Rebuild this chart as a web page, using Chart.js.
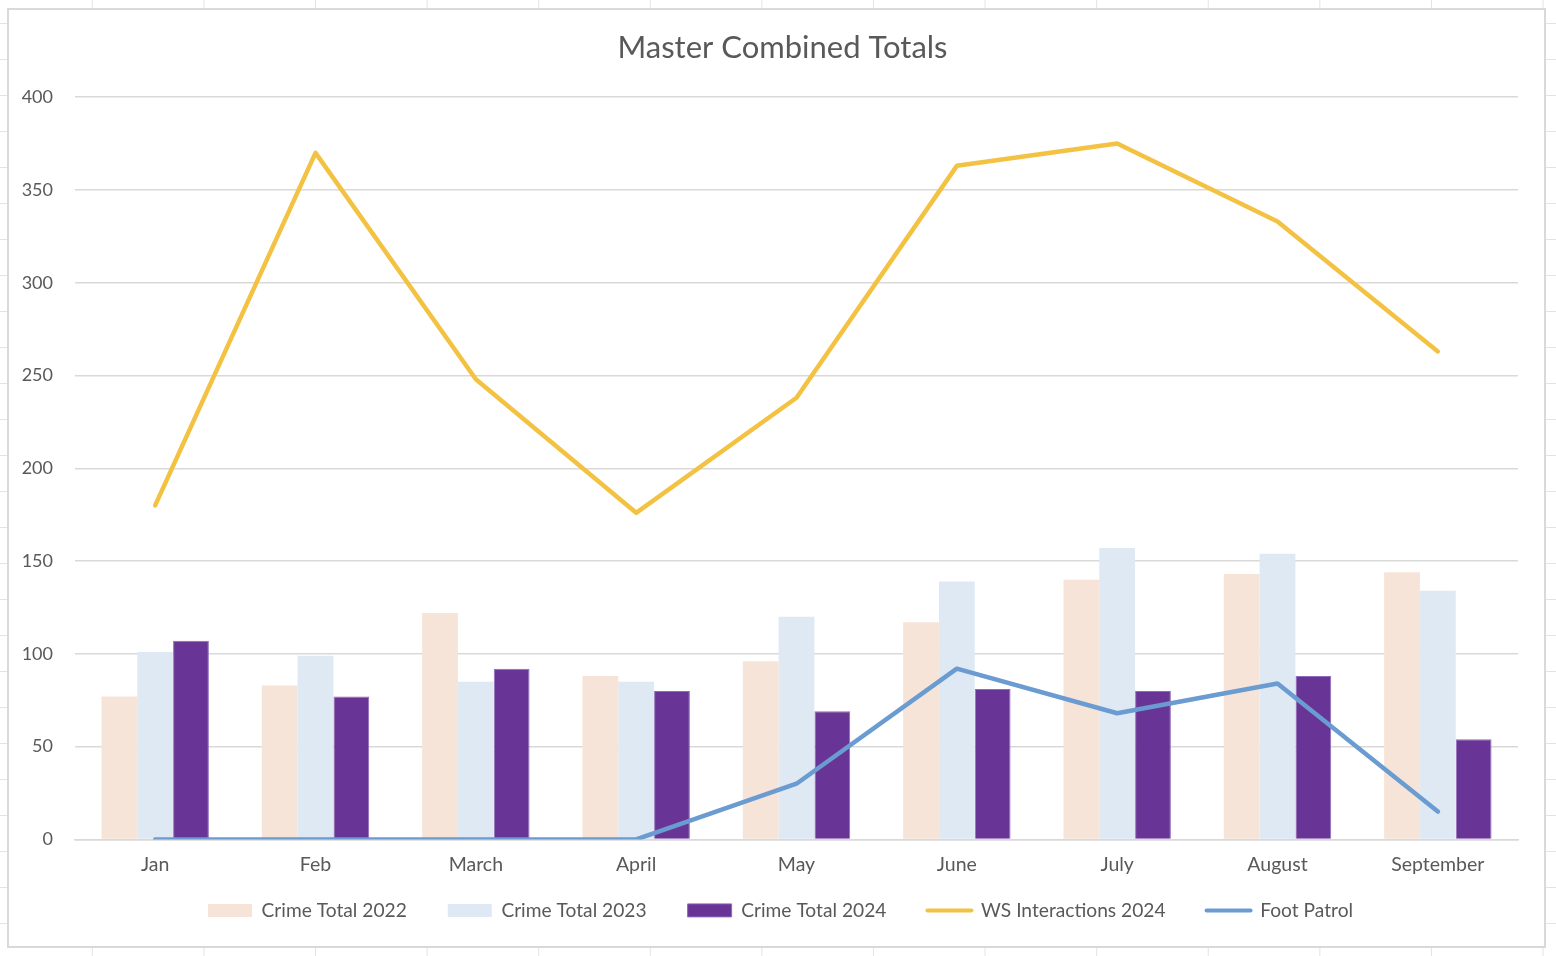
<!DOCTYPE html>
<html>
<head>
<meta charset="utf-8">
<script src="https://cdn.jsdelivr.net/npm/chart.js@4.4.1/dist/chart.umd.min.js"></script>
<style>
  html, body { margin: 0; padding: 0; }
  body {
    width: 1556px; height: 956px; position: relative; overflow: hidden;
    background-color: #fff;
    background-image:
      linear-gradient(to right, #e3e3e3 1px, transparent 1px),
      linear-gradient(to bottom, #e3e3e3 1px, transparent 1px);
    background-size: 111.6px 100%, 100% 36px;
    background-position: 315px 0, 0 23px;
  }
  #wrap {
    position: absolute; left: 7px; top: 8px; width: 1539px; height: 940px;
    box-sizing: border-box; border: 2px solid #d9d9d9; background: #fff;
  }
  #chart { display: block; }
</style>
</head>
<body>
<div id="wrap"><canvas id="chart" width="1535" height="936"></canvas></div>
<script>
// values
const months       = ['Jan', 'Feb', 'March', 'April', 'May', 'June', 'July', 'August', 'September'];
const crime2022    = [77, 83, 122, 88, 96, 117, 140, 143, 144];
const crime2023    = [101, 99, 85, 85, 120, 139, 157, 154, 134];
const crime2024    = [107, 77, 92, 80, 69, 81, 80, 88, 54];
const wsInteract   = [180, 370, 248, 176, 238, 363, 375, 333, 263];
const footPatrol   = [0, 0, 0, 0, 30, 92, 68, 84, 15];
const yTicks       = [0, 50, 100, 150, 200, 250, 300, 350, 400];

const FONT = "Lato, 'Open Sans', sans-serif";
const TEXT = '#595959';

const colors = {
  c22:  '#f7e4d8',
  c23:  '#dfe9f4',
  c24:  '#683496',
  c24b: '#8e6ab8',
  ws:   '#f4c243',
  foot: '#6a9bd1',
};

// Excel centres title/legend on the whole chart box, not the plot; nudge them to match
const boxNudge = {
  id: 'boxNudge',
  afterLayout(chart) {
    const t = chart.titleBlock, l = chart.legend;
    if (t) { t.left += 19; t.right += 19; }
    if (l) { l.left += 17; l.right += 17; l.top -= 31; l.bottom -= 31; }
  }
};

new Chart(document.getElementById('chart'), {
  data: {
    labels: months,
    datasets: [
      { type: 'bar', label: 'Crime Total 2022', data: crime2022, backgroundColor: colors.c22,
        borderWidth: 0, categoryPercentage: 0.67, barPercentage: 1, order: 2 },
      { type: 'bar', label: 'Crime Total 2023', data: crime2023, backgroundColor: colors.c23,
        borderWidth: 0, categoryPercentage: 0.67, barPercentage: 1, order: 2 },
      { type: 'bar', label: 'Crime Total 2024', data: crime2024, backgroundColor: colors.c24,
        borderColor: colors.c24b, borderWidth: 1, categoryPercentage: 0.67, barPercentage: 1, order: 2 },
      { type: 'line', label: 'WS Interactions 2024', data: wsInteract, borderColor: colors.ws,
        backgroundColor: colors.ws, borderWidth: 4.5, pointRadius: 0, tension: 0,
        borderCapStyle: 'round', borderJoinStyle: 'round', order: 1 },
      { type: 'line', label: 'Foot Patrol', data: footPatrol, borderColor: colors.foot,
        backgroundColor: colors.foot, borderWidth: 4.5, pointRadius: 0, tension: 0,
        borderCapStyle: 'round', borderJoinStyle: 'round', order: 0 },
    ]
  },
  options: {
    responsive: false,
    animation: false,
    layout: { padding: { left: 0, right: 26, top: 0, bottom: -15 } },
    plugins: {
      title: {
        display: true,
        text: 'Master Combined Totals',
        color: TEXT,
        font: { family: FONT, size: 31, weight: 'normal' },
        padding: { top: 19, bottom: 31 }
      },
      legend: {
        position: 'bottom',
        labels: {
          color: TEXT,
          font: { family: FONT, size: 19.2 },
          usePointStyle: true,
          pointStyleWidth: 44,
          boxHeight: 13,
          padding: 41,
          sort: (a, b) => a.datasetIndex - b.datasetIndex,
          generateLabels(chart) {
            const items = Chart.defaults.plugins.legend.labels.generateLabels(chart);
            items.forEach(it => {
              const ds = chart.data.datasets[it.datasetIndex];
              it.pointStyle = ds.type === 'line' ? 'line' : 'rect';
              if (ds.type === 'line') { it.lineWidth = 4; it.lineCap = 'round'; }
            });
            return items;
          }
        }
      },
      tooltip: { enabled: false }
    },
    scales: {
      x: {
        grid: { display: false, drawTicks: false },
        border: { color: '#d9d9d9', width: 1.5 },
        ticks: { color: TEXT, font: { family: FONT, size: 19.5 }, padding: 14, maxRotation: 0 }
      },
      y: {
        min: 0, max: 400,
        afterBuildTicks: s => { s.ticks = yTicks.map(v => ({ value: v })); },
        grid: { color: '#d9d9d9', lineWidth: 1.5, drawTicks: false },
        border: { display: false },
        ticks: { color: TEXT, font: { family: FONT, size: 18 }, padding: 22 },
        afterFit: s => { s.width = 66; }
      }
    }
  },
  plugins: [boxNudge]
});
</script>
</body>
</html>
